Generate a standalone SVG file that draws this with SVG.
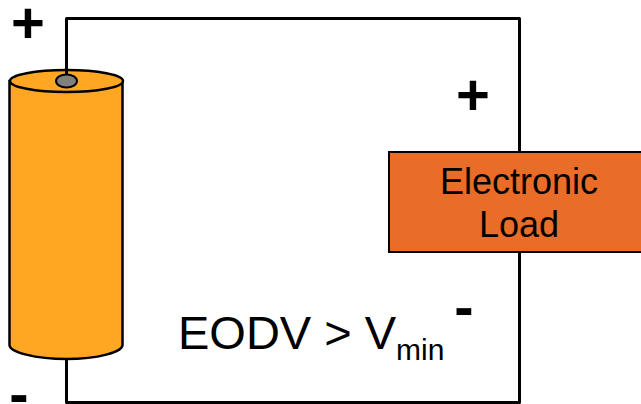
<svg xmlns="http://www.w3.org/2000/svg" width="641" height="404" viewBox="0 0 641 404">
<style>
.s{fill:none;stroke:#000;stroke-width:3;stroke-linejoin:round}
.c{stroke:#000;stroke-width:2.500}
text{font-family:"Liberation Sans",Arial,sans-serif;fill:#000}
.p{font-weight:bold;font-size:58px;text-anchor:middle}
.l{font-size:36px;text-anchor:middle}
</style>
<rect width="641" height="404" fill="#fff"/>
<g id="connectors">
<path class="s" d="M66.500 80V18.500H519.500V402.500H66.500V355"/>
</g>
<g id="battery">
<path d="M9.500 81V345C9.500 352 35 359 66.500 359S122.500 352 122.500 345V81Z" fill="#ffa723" class="c"/>
<ellipse cx="66.500" cy="81" rx="56.500" ry="11" fill="#ffa723" class="c"/>
<ellipse cx="66.500" cy="81" rx="10.500" ry="6.500" fill="#808080" stroke="#000" stroke-width="2"/>
<path class="s" d="M66.500 18.500V75"/>
</g>
<g id="load">
<rect x="389" y="152" width="256" height="100" fill="#e96c28" stroke="#000" stroke-width="2"/>
<text class="l" x="519" y="193.500">Electronic</text>
<text class="l" x="519" y="236.500">Load</text>
</g>
<g id="labels">
<text class="p" x="28" y="43">+</text>
<text class="p" x="473" y="115">+</text>
<text class="p" x="464" y="326.500">-</text>
<text class="p" x="19" y="413.500">-</text>
<text x="178" y="349" font-size="47">EODV &gt; V<tspan font-size="30" dy="11">min</tspan></text>
</g>
</svg>
